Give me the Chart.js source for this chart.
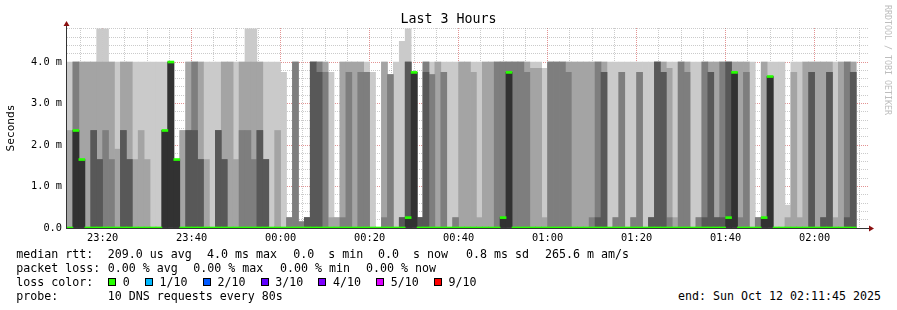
<!DOCTYPE html>
<html>
<head>
<meta charset="utf-8">
<title>Last 3 Hours</title>
<script src="https://cdn.jsdelivr.net/npm/chart.js@4.4.1/dist/chart.umd.min.js"></script>
<style>
  html, body { margin:0; padding:0; background:#ffffff; }
  #wrap { position:relative; width:897px; height:310px; overflow:hidden; background:#fff; }
  #chart { position:absolute; left:0; top:0; }
  #title { position:absolute; left:0; top:11px; width:897px; text-align:center; font-family:"DejaVu Sans Mono", monospace; font-size:13.3px; line-height:16px; color:#000; white-space:pre; }
  .txt { position:absolute; font-family:"DejaVu Sans Mono", monospace; font-size:11.63px; line-height:14px; height:14px; white-space:pre; color:#000; }
  .lossrow { position:absolute; display:flex; align-items:center; height:14px; font-family:"DejaVu Sans Mono", monospace; font-size:11.63px; white-space:pre; color:#000; }
  .box { display:inline-block; width:8px; height:8px; box-sizing:border-box; border:1px solid #000; margin-right:6.5px; }
  .lbl { display:inline-block; margin-right:15.3px; }
  #credit { position:absolute; left:882.5px; top:5px; writing-mode:vertical-rl; font-family:"DejaVu Sans Mono", monospace; font-size:8.3px; line-height:10px; color:#bdbdbd; white-space:pre; }
</style>
</head>
<body>
<div id="wrap">
  <canvas id="chart" width="897" height="250"></canvas>
  <div id="title">Last 3 Hours</div>
  <div id="legend"></div>
  <div id="credit">RRDTOOL / TOBI OETIKER</div>
</div>
<script>
// ---------------- DATA ----------------
// Time axis: minutes relative to 00:00 (23:12 = -48), one bucket every 80 s
const bucketStartMin = -48;
const bucketStepMin = 80 / 60;
const xRangeMin = -48, xRangeMax = 132;
const xTickMinutes = [-40, -20, 0, 20, 40, 60, 80, 100, 120];
const xTickLabels = ['23:20', '23:40', '00:00', '00:20', '00:40', '01:00', '01:20', '01:40', '02:00'];
const yTickValues = [0, 1, 2, 3, 4];
const yTickLabels = ['0.0', '1.0 m', '2.0 m', '3.0 m', '4.0 m'];
const yMaxMs = 4.82;

// 10 sorted DNS round-trip samples per 80 s bucket (ms)
const pingRtts = [
  [0,0,0,0,0,0,0,0,2.35,4],
  [0,0,0,0,0,2.35,2.35,4,4,4],
  [0,0,0,0,0,1.65,1.65,1.65,4,4],
  [0,0,0,0,0,0,0,0,4,4],
  [0,0,0,0,0,0,2.35,2.35,4,4],
  [0,0,0,0,0,0,1.65,1.65,4,4.8],
  [0,0,0,0,0,0,0,2.35,4,4.8],
  [0,0,0,0,0,0,0,1.65,4,4],
  [0,0,0,0,0,0,0,0,1.9,4],
  [0,0,0,0,0,0,2.35,2.35,4,4],
  [0,0,0,0,0,0,1.65,1.65,4,4],
  [0,0,0,0,0,0,0,0,1.65,4],
  [0,0,0,0,0,0,0,0,2.35,4],
  [0,0,0,0,0,0,0,0,1.65,4],
  [0,0,0,0,0,0,0,0,0,4],
  [0,0,0,0,0,0,0,0,0,4],
  [0,0,0,0,0,2.35,2.35,2.35,2.35,4],
  [0,0,0,0,0,4,4,4,4,4],
  [0,0,0,0,0,1.65,1.65,1.65,1.65,1.65],
  [0,0,0,0,0,0,0,0,2.35,2.35],
  [0,0,0,0,0,0,2.35,2.35,4,4],
  [0,0,0,0,0,0,2.35,4,4,4],
  [0,0,0,0,0,0,1.65,1.65,4,4],
  [0,0,0,0,0,0,0,0,1.65,4],
  [0,0,0,0,0,0,0,0,0,4],
  [0,0,0,0,0,0,2.35,2.35,2.35,4],
  [0,0,0,0,0,0,1.65,1.65,4,4],
  [0,0,0,0,0,0,0,0,4,4],
  [0,0,0,0,0,0,0,0,1.65,4],
  [0,0,0,0,0,0,0,2.35,4,4],
  [0,0,0,0,0,0,0,2.35,4,4.8],
  [0,0,0,0,0,0,0,1.65,4,4.8],
  [0,0,0,0,0,0,2.35,2.35,4,4],
  [0,0,0,0,0,0,1.65,1.65,1.65,4],
  [0,0,0,0,0,0,0,0,0,4],
  [0,0,0,0,0,0,0,0,2.35,4],
  [0,0,0,0,0,0,0,0,0,3.75],
  [0,0,0,0,0,0,0,0.25,0.25,0.25],
  [0,0,0,0,0,0,0,4,4,4],
  [0,0,0,0,0,0,0,0.15,0.15,0.15],
  [0,0,0,0,0,0,0.25,0.25,0.25,0.25],
  [0,0,0,0,0,0,4,4,4,4],
  [0,0,0,0,0,0,3.75,4,4,4],
  [0,0,0,0,0,0,0,3.75,4,4],
  [0,0,0,0,0,0,0,0,0.25,3.75],
  [0,0,0,0,0,0,0,0,0.25,0.25],
  [0,0,0,0,0,0,0,0.25,4,4],
  [0,0,0,0,0,0,0,3.75,4,4],
  [0,0,0,0,0,0,0,0,4,4],
  [0,0,0,0,0,0,0,3.75,4,4],
  [0,0,0,0,0,0,0,3.75,3.75,4],
  [0,0,0,0,0,0,0,0,0,3.75],
  [0,0,0,0,0,0,0,0,0,0],
  [0,0,0,0,0,0,0,0.25,4,4],
  [0,0,0,0,0,0,0,3.7,3.7,3.7],
  [0,0,0,0,0,0,0,0,0,4],
  [0,0,0,0,0,0,0.25,0.25,0.25,4.5],
  [0,0,0,0,0,0.25,4,4,4,4.8],
  [0,0,0,0,0,3.75,3.75,3.75,3.75,3.75],
  [0,0,0,0,0,0,0.25,0.25,0.25,0.25],
  [0,0,0,0,0,0,3.75,4,4,4],
  [0,0,0,0,0,0,0,3.7,3.7,4],
  [0,0,0,0,0,0,0,0,4,4],
  [0,0,0,0,0,0,0,3.75,3.75,4],
  [0,0,0,0,0,0,0,0,0,4],
  [0,0,0,0,0,0,0,0.25,0.25,4],
  [0,0,0,0,0,0,0,0,4,4],
  [0,0,0,0,0,0,0,0,4,4],
  [0,0,0,0,0,0,0,0,3.75,4],
  [0,0,0,0,0,0,0,0,0.25,4],
  [0,0,0,0,0,0,0,0,4,4],
  [0,0,0,0,0,0,0,0,4,4],
  [0,0,0,0,0,0,0,4,4,4],
  [0,0,0,0,0,0.25,0.25,4,4,4],
  [0,0,0,0,0,3.75,3.75,4,4,4],
  [0,0,0,0,0,0,0,4,4,4],
  [0,0,0,0,0,0,0,4,4,4],
  [0,0,0,0,0,0,0,3.75,4,4],
  [0,0,0,0,0,0,0,0,3.85,4],
  [0,0,0,0,0,0,0,0,3.85,4],
  [0,0,0,0,0,0,0,0,0.25,3.85],
  [0,0,0,0,0,0,0,4,4,4],
  [0,0,0,0,0,0,0,4,4,4],
  [0,0,0,0,0,0,0,4,4,4],
  [0,0,0,0,0,0,0,3.75,4,4],
  [0,0,0,0,0,0,0,0,4,4],
  [0,0,0,0,0,0,0,0,4,4],
  [0,0,0,0,0,0,0,0,4,4],
  [0,0,0,0,0,0,0,0.25,4,4],
  [0,0,0,0,0,0,0.25,4,4,4],
  [0,0,0,0,0,0,3.75,3.75,4,4],
  [0,0,0,0,0,0,0,0,0,4],
  [0,0,0,0,0,0,0,0.25,0.25,4],
  [0,0,0,0,0,0,0,3.75,3.75,4],
  [0,0,0,0,0,0,0,0,0,4],
  [0,0,0,0,0,0,0,0.25,0.25,4],
  [0,0,0,0,0,0,0,3.75,3.75,4],
  [0,0,0,0,0,0,0,0,0,4],
  [0,0,0,0,0,0,0.25,0.25,0.25,4],
  [0,0,0,0,0,0,4,4,4,4],
  [0,0,0,0,0,0,3.75,3.75,4,4],
  [0,0,0,0,0,0,0,0.25,3.85,4],
  [0,0,0,0,0,0,0,0,0.25,4],
  [0,0,0,0,0,0,0,4,4,4],
  [0,0,0,0,0,0,0,3.75,4,4],
  [0,0,0,0,0,0,0,0,0,4],
  [0,0,0,0,0,0,0,0.25,0.25,4],
  [0,0,0,0,0,0,0.25,4,4,4],
  [0,0,0,0,0,0,3.75,3.75,4,4],
  [0,0,0,0,0,0,0.25,0.25,4,4],
  [0,0,0,0,0,0,0.25,4,4,4],
  [0,0,0,0,0,0.25,4,4,4,4],
  [0,0,0,0,0,3.75,3.75,3.75,4,4],
  [0,0,0,0,0,0,0,0.25,4,4],
  [0,0,0,0,0,0,0,3.75,4,4],
  [0,0,0,0,0,0,0,0,0,4],
  [0,0,0,0,0,0,0,0.25,0.25,0.25],
  [0,0,0,0,0,0.25,0.25,0.25,4,4],
  [0,0,0,0,0,3.65,3.65,3.65,3.65,4],
  [0,0,0,0,0,0,0,0,0,4],
  [0,0,0,0,0,0,0,0,0,4],
  [0,0,0,0,0,0,0,0,0.25,0.55],
  [0,0,0,0,0,0,0,0,3.75,4],
  [0,0,0,0,0,0,0,0,0.25,4],
  [0,0,0,0,0,0,0,0,4,4],
  [0,0,0,0,0,0,3.75,3.75,4,4],
  [0,0,0,0,0,0,0,0,4,4],
  [0,0,0,0,0,0,0.25,0.25,4,4],
  [0,0,0,0,0,0,3.75,3.75,4,4],
  [0,0,0,0,0,0,0,0,0.25,4],
  [0,0,0,0,0,0,0,0,4,4],
  [0,0,0,0,0,0,0.25,4,4,4],
  [0,0,0,0,0,0,3.75,3.75,4,4]
];

// median RTT per bucket (ms)
const medianRtt = [
  0, 2.35, 1.65, 0, 0, 0, 0, 0, 0, 0,
  0, 0, 0, 0, 0, 0, 2.35, 4.0, 1.65, 0,
  0, 0, 0, 0, 0, 0, 0, 0, 0, 0,
  0, 0, 0, 0, 0, 0, 0, 0, 0, 0,
  0, 0, 0, 0, 0, 0, 0, 0, 0, 0,
  0, 0, 0, 0, 0, 0, 0, 0.25, 3.75, 0,
  0, 0, 0, 0, 0, 0, 0, 0, 0, 0,
  0, 0, 0, 0.25, 3.75, 0, 0, 0, 0, 0,
  0, 0, 0, 0, 0, 0, 0, 0, 0, 0,
  0, 0, 0, 0, 0, 0, 0, 0, 0, 0,
  0, 0, 0, 0, 0, 0, 0, 0, 0, 0,
  0, 0.25, 3.75, 0, 0, 0, 0, 0.25, 3.65, 0,
  0, 0, 0, 0, 0, 0, 0, 0, 0, 0,
  0, 0, 0
];

// legend texts
const rttStats = ['209.0 us avg', '4.0 ms max', '0.0  s min', '0.0  s now', '0.8 ms sd', '265.6 m am/s'];
const lossStats = ['0.00 % avg', '0.00 % max', '0.00 % min', '0.00 % now'];
const lossLabels = ['0', '1/10', '2/10', '3/10', '4/10', '5/10', '9/10'];
const lossColors = ['#26ff00', '#00b8ff', '#0059ff', '#5e00ff', '#7e00ff', '#dd00ff', '#ff0000'];
const probeText = '10 DNS requests every 80s';
const endText = 'end: Sun Oct 12 02:11:45 2025';

// ---------------- STYLE ----------------
const smokeColors = ['#cacaca', '#a4a4a4', '#7e7e7e', '#585858', '#323232'];
const medianColor = lossColors[0];
const medianHalfWidth = 0.024;
const gridMinor = 'rgba(140,140,140,0.45)';
const gridMajor = 'rgba(200,40,40,0.5)';
const monoFont = 'DejaVu Sans Mono';

// ---------------- BUILD ----------------
const bucketMid = pingRtts.map((_, k) => bucketStartMin + (k + 0.5) * bucketStepMin);

const bandSets = smokeColors.map((color, b) => ({
  label: 'smoke' + (b + 1),
  data: pingRtts
    .map((p, k) => ({ x: bucketMid[k], y: [p[b], p[9 - b]] }))
    .filter(d => d.y[1] > d.y[0]),
  backgroundColor: color,
  borderWidth: 0,
  grouped: false,
  barPercentage: 1,
  categoryPercentage: 1
}));

const medianSet = {
  label: 'median',
  data: medianRtt.map((m, k) => ({ x: bucketMid[k], y: [m - medianHalfWidth, m + medianHalfWidth] })),
  backgroundColor: medianColor,
  borderWidth: 0,
  grouped: false,
  barPercentage: 1,
  categoryPercentage: 1
};

// first dataset is drawn on top
const datasets = [medianSet].concat(bandSets.slice().reverse());

const axisArrows = {
  id: 'axisArrows',
  afterDraw(chart) {
    const { ctx, chartArea: a } = chart;
    ctx.save();
    ctx.strokeStyle = '#333333';
    ctx.lineWidth = 1;
    ctx.beginPath();
    ctx.moveTo(a.left - 0.5, a.bottom + 1);
    ctx.lineTo(a.left - 0.5, a.top - 3);
    ctx.moveTo(a.left - 1, a.bottom + 0.5);
    ctx.lineTo(a.right + 2, a.bottom + 0.5);
    ctx.stroke();
    ctx.fillStyle = '#8b1010';
    ctx.beginPath();
    ctx.moveTo(a.left - 0.5, a.top - 7);
    ctx.lineTo(a.left - 3.5, a.top - 2);
    ctx.lineTo(a.left + 2.5, a.top - 2);
    ctx.closePath();
    ctx.fill();
    ctx.beginPath();
    ctx.moveTo(a.right + 6, a.bottom + 0.5);
    ctx.lineTo(a.right + 1, a.bottom - 2.5);
    ctx.lineTo(a.right + 1, a.bottom + 3.5);
    ctx.closePath();
    ctx.fill();
    ctx.restore();
  }
};

new Chart(document.getElementById('chart'), {
  type: 'bar',
  data: { datasets },
  options: {
    responsive: false,
    animation: false,
    devicePixelRatio: 1,
    layout: { padding: { left: 0, right: 29, top: 28, bottom: 0 } },
    plugins: {
      legend: { display: false },
      tooltip: { enabled: false },
      title: { display: false }
    },
    scales: {
      x: {
        type: 'linear',
        min: xRangeMin,
        max: xRangeMax,
        offset: false,
        z: 1,
        afterBuildTicks(scale) {
          const t = [];
          for (let v = xRangeMin + 3; v <= xRangeMax; v += 5) t.push({ value: v });
          scale.ticks = t;
        },
        afterFit(scale) { scale.height = 22; },
        grid: {
          offset: false,
          drawTicks: false,
          lineWidth: 1,
          color: (c) => (c.tick && xTickMinutes.includes(c.tick.value)) ? gridMajor : gridMinor
        },
        border: { display: false, dash: [1, 1] },
        ticks: {
          autoSkip: false,
          maxRotation: 0,
          padding: 4,
          color: '#000',
          font: { family: monoFont, size: 10.3 },
          callback: (v) => { const i = xTickMinutes.indexOf(v); return i >= 0 ? xTickLabels[i] : ''; }
        }
      },
      y: {
        type: 'linear',
        min: 0,
        max: yMaxMs,
        z: 1,
        afterBuildTicks(scale) {
          const t = [];
          for (let i = 0; i <= 24; i++) t.push({ value: Math.round(i * 2) / 10 });
          scale.ticks = t;
        },
        afterFit(scale) { scale.width = 67; },
        grid: {
          drawTicks: false,
          lineWidth: 1,
          color: (c) => (c.tick && yTickValues.includes(c.tick.value)) ? gridMajor : gridMinor
        },
        border: { display: false, dash: [1, 1] },
        title: {
          display: true,
          text: 'Seconds',
          color: '#000',
          font: { family: monoFont, size: 11.2 },
          padding: { top: 4, bottom: 0 }
        },
        ticks: {
          autoSkip: false,
          padding: 5,
          color: '#000',
          font: { family: monoFont, size: 10.3 },
          callback: (v) => { const i = yTickValues.indexOf(v); return i >= 0 ? yTickLabels[i] : ''; }
        }
      }
    }
  },
  plugins: [axisArrows]
});

// ---------------- LEGEND (HTML text) ----------------
const legend = document.getElementById('legend');
function addText(str, x, y) {
  const d = document.createElement('div');
  d.className = 'txt';
  d.style.left = x + 'px';
  d.style.top = y + 'px';
  d.textContent = str;
  legend.appendChild(d);
}
const lineTop = [247.3, 261.3, 275.3, 289.3];
const rttX = [107.7, 207, 293.3, 378, 466, 545];
const lossX = [107.7, 193.3, 280, 366];
addText('median rtt:', 16.3, lineTop[0]);
rttStats.forEach((s, i) => addText(s, rttX[i], lineTop[0]));
addText('packet loss:', 16.3, lineTop[1]);
lossStats.forEach((s, i) => addText(s, lossX[i], lineTop[1]));
addText('loss color:', 16.3, lineTop[2]);
const row = document.createElement('div');
row.className = 'lossrow';
row.style.left = '108.3px';
row.style.top = lineTop[2] + 'px';
lossLabels.forEach((lab, i) => {
  const b = document.createElement('span');
  b.className = 'box';
  b.style.background = lossColors[i];
  const t = document.createElement('span');
  t.className = 'lbl';
  t.textContent = lab;
  row.appendChild(b);
  row.appendChild(t);
});
legend.appendChild(row);
addText('probe:', 16.3, lineTop[3]);
addText(probeText, 107.7, lineTop[3]);
addText(endText, 678, lineTop[3]);
</script>
</body>
</html>
